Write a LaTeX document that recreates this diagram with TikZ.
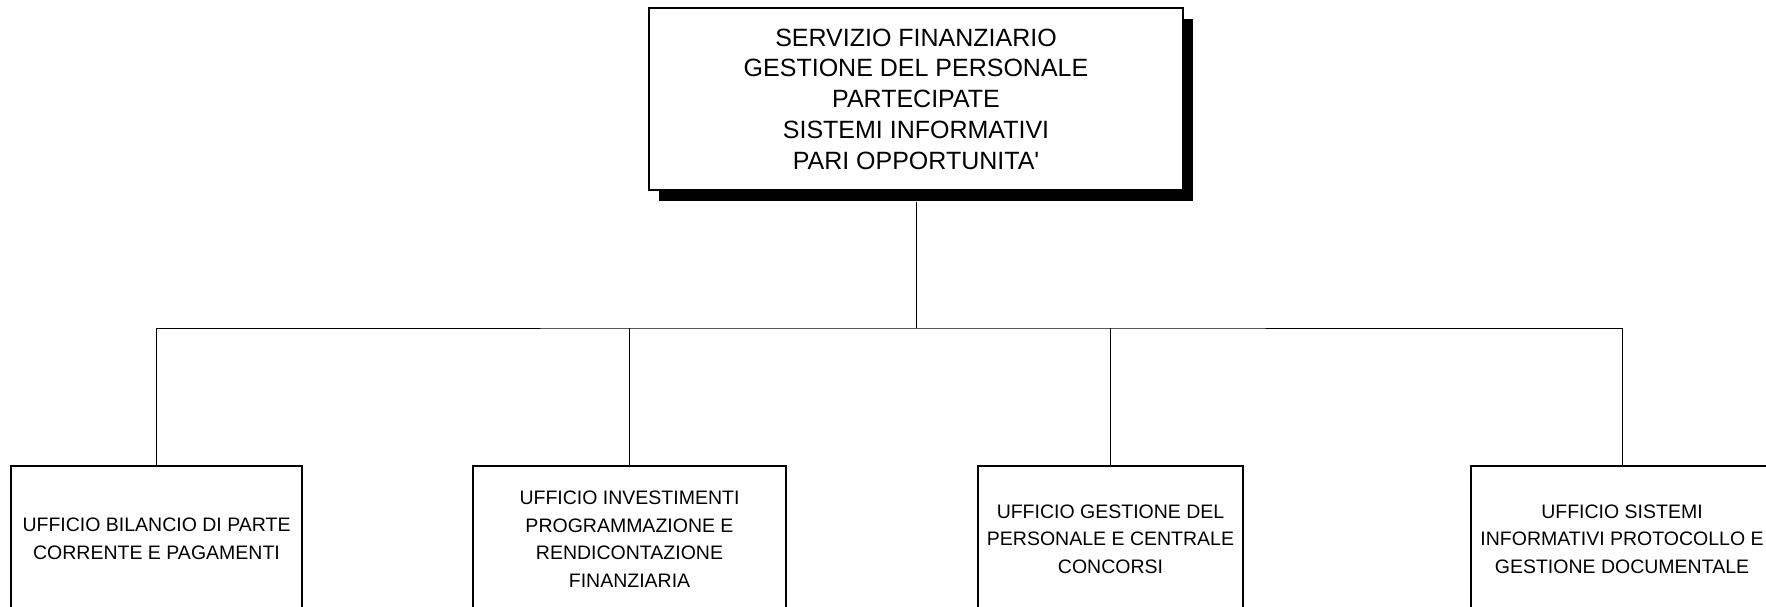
\documentclass[tikz,border=0pt]{standalone}
\usepackage{fontspec}
\setmainfont{Liberation Sans}[Ligatures=TeXOff]
\usetikzlibrary{shadows}
\tikzset{
  topbox/.style={draw=black, line width=1.8pt, fill=white, align=center, inner sep=0pt,
    minimum width=534pt, minimum height=182pt,
    font=\fontsize{25}{30.8}\selectfont,
    general shadow={fill=black, shadow xshift=10pt, shadow yshift=-11pt}},
  officebox/.style={draw=black, line width=1.8pt, fill=white, align=center, inner sep=0pt,
    minimum height=146pt, font=\fontsize{19.5}{27.6}\selectfont},
  conn/.style={draw=black, line width=1pt}
}
\begin{document}
\begin{tikzpicture}[x=1pt,y=-1pt]
\useasboundingbox (0,0) rectangle (1766,606);
\node[topbox] (top) at (916,99) {SERVIZIO FINANZIARIO\\GESTIONE DEL PERSONALE\\PARTECIPATE\\SISTEMI INFORMATIVI\\PARI OPPORTUNITA'};
\node[officebox, minimum width=291pt] (b1) at (156.5,539) {UFFICIO BILANCIO DI PARTE\\CORRENTE E PAGAMENTI};
\node[officebox, minimum width=313pt] (b2) at (629.5,539) {UFFICIO INVESTIMENTI\\PROGRAMMAZIONE E\\RENDICONTAZIONE\\FINANZIARIA};
\node[officebox, minimum width=265pt] (b3) at (1110.5,539) {UFFICIO GESTIONE DEL\\PERSONALE E CENTRALE\\CONCORSI};
\node[officebox, minimum width=302pt] (b4) at (1622,539) {UFFICIO SISTEMI\\INFORMATIVI PROTOCOLLO E\\GESTIONE DOCUMENTALE};
\coordinate (bus) at (916,328);
\draw[conn] (top.south) ++(0,11) -- (bus);
\draw[conn] (b1.north) |- (bus) -| (b4.north);
\draw[conn] (b2.north) -- (b2.north |- bus);
\draw[conn] (b3.north) -- (b3.north |- bus);
\end{tikzpicture}
\end{document}
